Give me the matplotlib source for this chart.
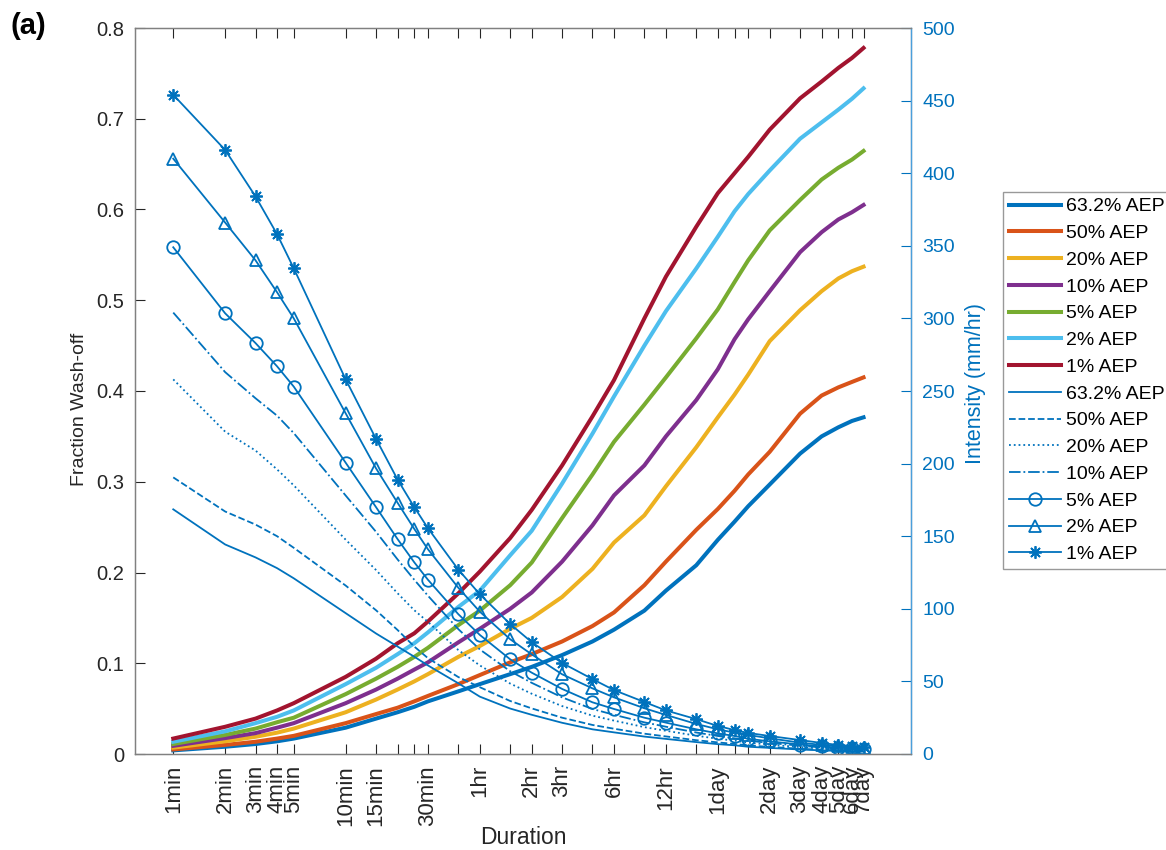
import matplotlib
matplotlib.use("Agg")
import matplotlib.pyplot as plt
import numpy as np

plt.rcParams['font.family'] = ['Liberation Sans', 'DejaVu Sans']

# standard storm durations (minutes)
durations = [1, 2, 3, 4, 5, 10, 15, 20, 25, 30, 45, 60, 90, 120, 180, 270, 360,
             540, 720, 1080, 1440, 1800, 2160, 2880, 4320, 5760, 7200, 8640, 10080]
tick_labels = ['1min', '2min', '3min', '4min', '5min', '10min', '15min', '', '', '30min',
               '', '1hr', '', '2hr', '3hr', '', '6hr', '', '12hr', '', '1day', '', '',
               '2day', '3day', '4day', '5day', '6day', '7day']

aep_labels = ['63.2% AEP', '50% AEP', '20% AEP', '10% AEP', '5% AEP', '2% AEP', '1% AEP']

# fraction washed off for each AEP
washoff_632 = [0.004, 0.008, 0.011, 0.014, 0.017, 0.029, 0.039, 0.046, 0.052, 0.058, 0.069, 0.077,
               0.088, 0.096, 0.109, 0.124, 0.137, 0.158, 0.180, 0.208, 0.236, 0.256, 0.273, 0.297,
               0.331, 0.350, 0.360, 0.367, 0.371]
washoff_50 = [0.005, 0.010, 0.0135, 0.017, 0.020, 0.034, 0.044, 0.051, 0.058, 0.064, 0.077, 0.087,
              0.101, 0.110, 0.124, 0.141, 0.156, 0.186, 0.212, 0.247, 0.270, 0.290, 0.308, 0.333,
              0.375, 0.395, 0.404, 0.410, 0.415]
washoff_20 = [0.007, 0.014, 0.019, 0.0235, 0.028, 0.046, 0.060, 0.071, 0.080, 0.088, 0.107, 0.119,
              0.138, 0.150, 0.173, 0.204, 0.233, 0.263, 0.295, 0.338, 0.371, 0.396, 0.418, 0.455,
              0.489, 0.510, 0.524, 0.532, 0.537]
washoff_10 = [0.009, 0.0175, 0.023, 0.029, 0.034, 0.056, 0.071, 0.083, 0.093, 0.101, 0.123, 0.138,
              0.160, 0.178, 0.212, 0.252, 0.285, 0.318, 0.350, 0.390, 0.424, 0.457, 0.479, 0.510,
              0.553, 0.575, 0.589, 0.597, 0.605]
washoff_5 = [0.011, 0.021, 0.028, 0.035, 0.040, 0.066, 0.083, 0.096, 0.107, 0.117, 0.142, 0.158,
             0.186, 0.211, 0.260, 0.308, 0.344, 0.385, 0.415, 0.458, 0.490, 0.520, 0.544, 0.577,
             0.6105, 0.633, 0.646, 0.655, 0.6645]
washoff_2 = [0.0135, 0.025, 0.034, 0.041, 0.048, 0.077, 0.095, 0.110, 0.122, 0.134, 0.162, 0.180,
             0.219, 0.246, 0.298, 0.353, 0.394, 0.450, 0.488, 0.535, 0.570, 0.598, 0.617, 0.643,
             0.678, 0.696, 0.710, 0.722, 0.7335]
washoff_1 = [0.017, 0.030, 0.039, 0.048, 0.056, 0.085, 0.105, 0.122, 0.133, 0.146, 0.177, 0.201,
             0.238, 0.269, 0.318, 0.372, 0.412, 0.480, 0.526, 0.581, 0.618, 0.640, 0.658, 0.688,
             0.7225, 0.741, 0.756, 0.767, 0.778]

# rainfall intensity (mm/hr) for each AEP
intensity_632 = [168.5, 144.3, 135.4, 128, 121, 97, 83, 74, 67, 61, 48.7, 39.5, 31.3, 27, 21.5, 17,
                 14.9, 12, 10.4, 8.2, 6.8, 6, 5, 4.2, 3.1, 2.5, 2.1, 1.8, 1.6]
intensity_50 = [190.5, 167, 158, 150, 142, 116, 99, 85.4, 74, 66, 53, 46, 36.5, 31.4, 25, 20, 17.4,
                14, 12.1, 9.5, 8, 6.9, 5.9, 4.9, 3.6, 2.9, 2.5, 2.1, 1.9]
intensity_20 = [258, 222, 209, 196, 185, 147.6, 126.7, 110.7, 99, 91, 71.6, 61, 48.5, 41.5, 33,
                26.4, 23, 18.5, 16, 12.6, 10.5, 9.2, 7.8, 6.4, 4.8, 3.9, 3.3, 2.8, 2.5]
intensity_10 = [304, 263, 245, 233, 221, 178, 153, 134, 120, 109, 86, 72, 57, 49, 39, 31, 27, 21.8,
                18.8, 14.8, 12.4, 10.8, 9.2, 7.6, 5.7, 4.5, 3.8, 3.3, 3.0]
intensity_5 = [349, 303.5, 283, 267, 253, 200.6, 170, 148, 132, 120, 96.3, 82, 65.2, 56, 44.8,
               35.6, 31, 25, 21.6, 17, 14.2, 12.4, 10.5, 8.7, 6.5, 5.2, 4.4, 3.8, 3.4]
intensity_2 = [410, 366, 340, 318, 300, 234.6, 196.7, 173, 155, 141, 114.5, 98, 79, 68.6, 54.9,
               45.2, 39, 31.5, 26.9, 20.7, 17, 14.7, 13.1, 10.8, 7.8, 6.3, 5.3, 4.6, 4.1]
intensity_1 = [454, 416, 384, 358, 334.5, 258, 217, 189, 170, 155.5, 127, 110, 89.5, 77, 62.7,
               51.6, 44, 35.8, 30, 24, 19.3, 16.5, 14.5, 12.4, 9.6, 7.6, 6.2, 5.5, 4.8]

washoff = [washoff_632, washoff_50, washoff_20, washoff_10, washoff_5, washoff_2, washoff_1]
intensity = [intensity_632, intensity_50, intensity_20, intensity_10, intensity_5, intensity_2,
             intensity_1]

colors = ['#0072BD', '#D95319', '#EDB120', '#7E2F8E', '#77AC30', '#4DBEEE', '#A2142F']
blue = '#0072BD'
dark = '#262626'
int_styles = [dict(ls='-'), dict(ls='--'), dict(ls=':'), dict(ls='-.'),
              dict(ls='-', marker='o'), dict(ls='-', marker='^'), dict(ls='-', marker=(8, 2, 0))]

fig = plt.figure(figsize=(11.66, 8.5), dpi=100)
ax = fig.add_axes([135 / 1166, 96 / 850, 776 / 1166, 726 / 850])
ax2 = ax.twinx()

handles = []
for y, c, lab in zip(washoff, colors, aep_labels):
    h, = ax.plot(durations, y, color=c, lw=2.9, label=lab)
    handles.append(h)

for y, st, lab in zip(intensity, int_styles, aep_labels):
    h, = ax2.plot(durations, y, color=blue, lw=1.3, label=lab, ms=9, mfc='none', mew=1.3, **st)
    handles.append(h)

ax.set_xscale('log')
ax.set_xlim(0.6, 19000)
ax.set_ylim(0, 0.8)
ax2.set_ylim(0, 500)
ax.set_xticks(durations)
ax.set_xticklabels(tick_labels, rotation=90)
ax.xaxis.set_minor_locator(matplotlib.ticker.NullLocator())
ax.set_yticks(np.arange(0, 0.81, 0.1))
ax.set_yticklabels(['0'] + ['%.1f' % v for v in np.arange(0.1, 0.81, 0.1)])
ax2.set_yticks(np.arange(0, 501, 50))

ax.tick_params(axis='x', direction='in', top=True, length=7, width=0.8, colors=dark,
               labelsize=16, pad=8)
ax.tick_params(axis='y', direction='in', length=7, width=0.8, colors=dark, labelsize=14.5, pad=8)
ax2.tick_params(axis='y', direction='in', length=7, width=0.8, colors=blue, labelsize=14, pad=8)

for s in ['left', 'top', 'bottom']:
    ax2.spines[s].set_color('#808080')
    ax.spines[s].set_color('#808080')
ax2.spines['right'].set_color('#4a9fdc')
for s in ax2.spines.values():
    s.set_linewidth(1.0)

ax.set_xlabel('Duration', fontsize=16.5, color=dark, va='center')
ax.xaxis.set_label_coords(0.5, (754 - 838) / 726)
ax.set_ylabel('Fraction Wash-off', fontsize=14, color=dark, va='center')
ax.yaxis.set_label_coords((80 - 135) / 776, 0.475)
ax2.set_ylabel('Intensity (mm/hr)', fontsize=15.5, color=blue, va='center')
ax2.yaxis.set_label_coords((976 - 135) / 776, 0.51)

leg = fig.legend(handles=handles, loc='upper left', bbox_to_anchor=(1003 / 1166, 1 - 192 / 850),
                 fontsize=14, frameon=True, fancybox=False, handlelength=2.7, handletextpad=0.25,
                 labelspacing=0.47, borderpad=0.3, borderaxespad=0)
leg.get_frame().set_edgecolor('#808080')
leg.get_frame().set_linewidth(1.0)

fig.text(10 / 1166, 1 - 26 / 850, '(a)', fontsize=21, fontweight='bold', va='center')

fig.savefig('out.png', dpi=100)
